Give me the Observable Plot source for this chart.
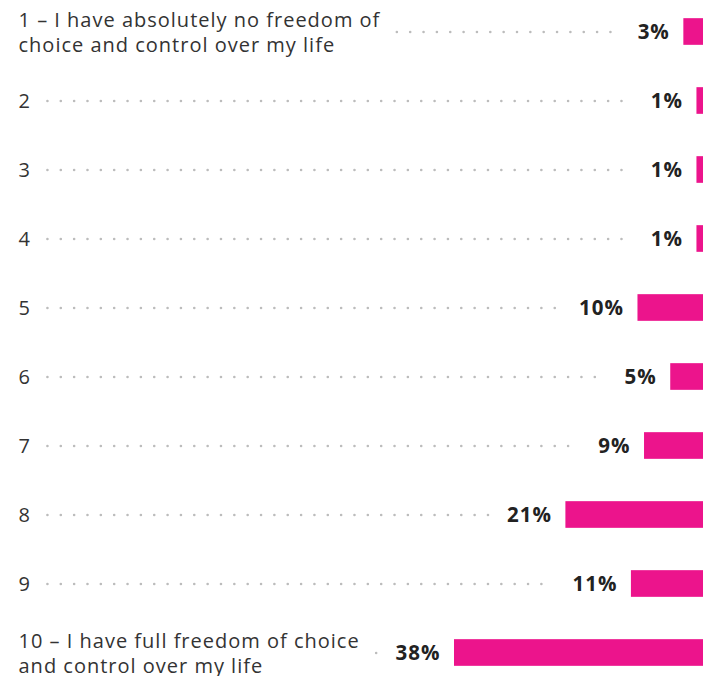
<!DOCTYPE html>
<html><head><meta charset="utf-8">
<script src="https://cdn.jsdelivr.net/npm/d3@7"></script>
<script src="https://cdn.jsdelivr.net/npm/@observablehq/plot@0.6"></script>
<style>
html,body{margin:0;padding:0;background:#fff;}
</style>
</head><body>
<div id="chart"></div>
<script>
const labels = [
  "1 – I have absolutely no freedom of\nchoice and control over my life",
  "2","3","4","5","6","7","8","9",
  "10 – I have full freedom of choice\nand control over my life"
];
const values = [3, 1, 1, 1, 10, 5, 9, 21, 11, 38];
const valueLabels = ["3%","1%","1%","1%","10%","5%","9%","21%","11%","38%"];

const FONT = "Open Sans, sans-serif";
const LS = 1; // letter spacing px
const W = 710, H = 676;
const xRight = 703, pxPerUnit = 249 / 38;
const xMax = xRight / pxPerUnit;
const x = d3.scaleLinear().domain([0, xMax]).range([xRight, 0]);

const ctx = document.createElement("canvas").getContext("2d");
function tw(s, weight, size) {
  ctx.font = `${weight} ${size}px ${FONT}`;
  return Math.max(...s.split("\n").map(l => ctx.measureText(l).width + LS * l.length));
}

const data = labels.map((l, i) => {
  const vStart = x(values[i]) - 14 - tw(valueLabels[i], "bold", 20.5);
  const lEnd = 18 + tw(l, "normal", 20);
  return {label: l, value: values[i], vl: valueLabels[i],
    lx1: x.invert(lEnd + 17), lx2: x.invert(vStart - 18)};
});

const step = 624 / 9;
const plot = Plot.plot({
  width: W, height: H,
  marginLeft: 0, marginRight: W - xRight, marginTop: 0, marginBottom: 0,
  style: {fontFamily: FONT, background: "#fff", letterSpacing: LS + "px"},
  x: {domain: [0, xMax], reverse: true, axis: null},
  y: {type: "band", domain: labels, range: [30 - step / 2, 654 + step / 2], padding: 0, axis: null},
  marks: [
    Plot.ruleY(data, {y: "label", x1: "lx1", x2: "lx2", stroke: "#bcbcbc", strokeWidth: 2.6,
      strokeLinecap: "round", strokeDasharray: "0 13.35"}),
    Plot.barX(data, {y: "label", x: "value", fill: "#EC148C", insetTop: (step - 27) / 2, insetBottom: (step - 27) / 2}),
    Plot.text(data, {y: "label", x: "value", text: "vl", dx: -14, textAnchor: "end",
      fontWeight: "bold", fontSize: 20.5, fill: "#222"}),
    Plot.text(data, {y: "label", frameAnchor: "left", dx: 18, dy: -1, text: "label", textAnchor: "start",
      fontSize: 20, fill: "#333", lineHeight: 1.25})
  ]
});
document.getElementById("chart").append(plot);
</script>
</body></html>
